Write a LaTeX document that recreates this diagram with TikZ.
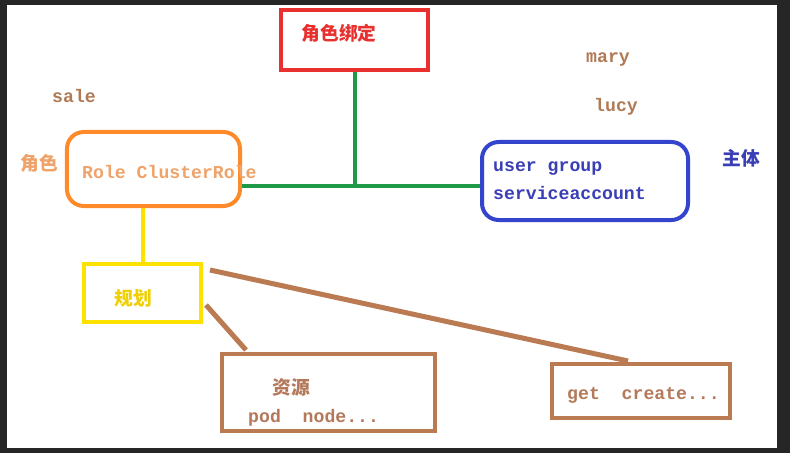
\documentclass[tikz,border=0pt]{standalone}
\usepackage{fontspec}
\setmonofont{Liberation Mono}
\newfontfamily\cjk{Noto Sans CJK SC}
\usetikzlibrary{calc}
\definecolor{framegray}{HTML}{262626}
\definecolor{bindred}{HTML}{E8312F}
\definecolor{linkgreen}{HTML}{1E9A46}
\definecolor{roleorange}{HTML}{FF8A2A}
\definecolor{roletext}{HTML}{EFA36A}
\definecolor{subjblue}{HTML}{3345CC}
\definecolor{subjtext}{HTML}{3A3FB5}
\definecolor{planyellow}{HTML}{FFE100}
\definecolor{plantext}{HTML}{F0D000}
\definecolor{rulebrown}{HTML}{BA7A52}
\definecolor{resbrown}{HTML}{B4785A}
\definecolor{namebrown}{HTML}{B07A55}
\begin{document}
\begin{tikzpicture}[
        x=0.03cm, y=-0.03cm,
        every node/.style={inner sep=0pt},
        box/.style={draw=#1, line width=0.12cm},
        wire/.style={draw=#1, line width=0.12cm},
        mono/.style={font=\ttfamily\bfseries\fontsize{15.5pt}{18pt}\selectfont, anchor=west},
        hanzi/.style={font=\cjk\bfseries\fontsize{16pt}{18pt}\selectfont}
    ]
        % screen frame
        \fill[framegray] (0,0) rectangle (790,453);
        \fill[white] (7,5) rectangle (777,448);

        % boxes
        \node[box=bindred, minimum width=4.41cm, minimum height=1.8cm] (binding) at (354.5,40) {};
        \node[box=roleorange, rounded corners=0.5cm, minimum width=5.19cm, minimum height=2.22cm] (role) at (153.5,169) {};
        \node[box=subjblue, rounded corners=0.5cm, minimum width=6.18cm, minimum height=2.34cm] (subject) at (585,181) {};
        \node[box=planyellow, minimum width=3.51cm, minimum height=1.74cm] (plan) at (142.5,293) {};
        \node[box=rulebrown, minimum width=6.39cm, minimum height=2.31cm] (resource) at (328.5,392.5) {};
        \node[box=rulebrown, minimum width=5.34cm, minimum height=1.62cm] (action) at (641,391) {};

        % connectors
        \coordinate (hub) at (354.5,186);
        \draw[wire=linkgreen] (binding.south) -- (hub);
        \draw[wire=linkgreen] (role.east |- hub) -- (subject.west |- hub);
        \draw[wire=planyellow] (plan.north) -- (plan.north |- role.south);
        \draw[wire=rulebrown, line width=0.15cm] ($(plan.north east)+(7,8)$) -- ($(action.north)+(-13,-1)$);
        \draw[wire=rulebrown, line width=0.15cm] ($(plan.east)+(3,12)$) -- ($(resource.north west)+(26,-2)$);

        % texts
        \node[hanzi, text=bindred] (bindtext) at (339,33) {角色绑定};
        \node[mono, text=namebrown] (sale) at (52,96) {sale};
        \node[mono, text=namebrown] (mary) at (586,59) {mary};
        \node[mono, text=namebrown] (lucy) at (594,107) {lucy};
        \node[hanzi, text=roletext] (rolelabel) at (39,163) {角色};
        \node[mono, text=roletext] (roletext) at (82,172) {Role ClusterRole};
        \node[mono, text=subjtext] (subjline1) at (493,169) {user group};
        \node[mono, text=subjtext] (subjline2) at (493,193) {serviceaccount};
        \node[hanzi, text=subjtext] (subjlabel) at (741,158) {主体};
        \node[hanzi, text=plantext] (plantext) at (133,298) {规划};
        \node[hanzi, text=resbrown] (restext) at (291,387) {资源};
        \node[mono, text=resbrown] (resitems) at (248,418) {pod\ \ node...};
        \node[mono, text=resbrown] (actitems) at (567,395) {get\ \ create...};
    \end{tikzpicture}
\end{document}
